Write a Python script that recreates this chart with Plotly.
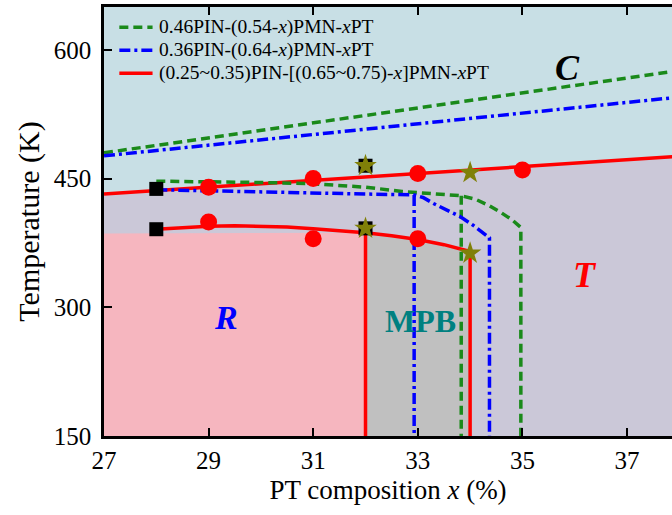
import plotly.graph_objects as go

# ---------------- data ----------------
x_fit = [27, 38]
tc_red = [432, 476]        # (0.25~0.35)PIN series, C/T boundary
tc_green = [480, 576]      # 0.46PIN series
tc_blue = [476.5, 545]     # 0.36PIN series
T_min, T_max = 150, 650

# R / T boundary of red series
rt_x = [28, 28.5, 29, 29.5, 30, 30.5, 31, 31.5, 32, 32.5, 33, 33.5, 34]
rt_T = [391, 393, 394.5, 395, 394.5, 393.5, 391.5, 389.5, 387, 383.5, 379, 373, 365]

# R region top
r_x = [27, 32]
r_top = [386, 387]

# MPB borders (red series)
mpb_left, mpb_right = 32, 34

# 0.46PIN series R/T boundary
g_x = [28, 29, 30, 31, 32, 32.7, 33.2, 33.83, 34.1, 34.35, 34.6, 34.8, 34.97, 34.97]
g_T = [447, 446.5, 445.5, 444, 440, 435, 433, 430, 426, 419, 410, 402, 393, 150]
g_vx = [33.83, 33.83]
g_vT = [430, 150]

# 0.36PIN series R/T boundary
b_x = [28, 29, 30, 31, 32, 32.93, 33.1, 33.3, 33.55, 33.8, 34.05, 34.25, 34.37, 34.37]
b_T = [437, 436, 435, 433.5, 432, 431, 428, 421, 414, 406, 396, 387, 381, 150]
b_vx = [32.93, 32.93]
b_vT = [431, 150]

# measured points
dot_x = [29, 31, 33, 35, 29, 31, 33]
dot_T = [440, 450, 456, 460, 399.5, 380, 380]
sq_x = [28, 28, 32, 32]
sq_T = [438, 391, 465, 392]
star_x = [32, 32, 34, 34]
star_T = [465, 392, 457, 363]

x_ticks = [27, 29, 31, 33, 35, 37]
y_ticks = [150, 300, 450, 600]

legend_labels = [
    "0.46PIN-(0.54-<i>x</i>)PMN-<i>x</i>PT",
    "0.36PIN-(0.64-<i>x</i>)PMN-<i>x</i>PT",
    "(0.25~0.35)PIN-[(0.65~0.75)-<i>x</i>]PMN-<i>x</i>PT",
]

# ---------------- styles ----------------
FONT = "Liberation Serif"
C_BLUEBG = "#c8dfe5"
C_LAV = "#cbc8d8"
C_PINK = "#f6b6bf"
C_GRAY = "#c0c0c0"
RED = "#ff0000"
GREEN = "#1a8a1a"
BLUE = "#0000ff"
OLIVE = "#808008"
G_DASH = "9px,5px"
B_DASH = "11px,4px,3px,4px"

fig = go.Figure()

# background regions
fig.add_trace(go.Scatter(x=x_fit + x_fit[::-1], y=tc_red + [T_max, T_max],
                         fill="toself", fillcolor=C_BLUEBG, mode="none", hoverinfo="skip", showlegend=False))
fig.add_trace(go.Scatter(x=x_fit + x_fit[::-1], y=tc_red + [T_min, T_min],
                         fill="toself", fillcolor=C_LAV, mode="none", hoverinfo="skip", showlegend=False))
fig.add_trace(go.Scatter(x=r_x + r_x[::-1], y=r_top + [T_min, T_min],
                         fill="toself", fillcolor=C_PINK, mode="none", hoverinfo="skip", showlegend=False))
mx = [x for x in rt_x if mpb_left <= x <= mpb_right]
mT = [t for x, t in zip(rt_x, rt_T) if mpb_left <= x <= mpb_right]
fig.add_trace(go.Scatter(x=mx + [mpb_right, mpb_left], y=mT + [T_min, T_min],
                         fill="toself", fillcolor=C_GRAY, mode="none", hoverinfo="skip", showlegend=False))

# fitted C boundaries
fig.add_trace(go.Scatter(x=x_fit, y=tc_green, mode="lines", line=dict(color=GREEN, width=3.5, dash=G_DASH), showlegend=False))
fig.add_trace(go.Scatter(x=x_fit, y=tc_blue, mode="lines", line=dict(color=BLUE, width=3.5, dash=B_DASH), showlegend=False))
fig.add_trace(go.Scatter(x=x_fit, y=tc_red, mode="lines", line=dict(color=RED, width=3.5), showlegend=False))

# R/T boundaries
fig.add_trace(go.Scatter(x=g_x, y=g_T, mode="lines", line=dict(color=GREEN, width=3.5, dash=G_DASH), showlegend=False))
fig.add_trace(go.Scatter(x=g_vx, y=g_vT, mode="lines", line=dict(color=GREEN, width=3.5, dash=G_DASH), showlegend=False))
fig.add_trace(go.Scatter(x=b_x, y=b_T, mode="lines", line=dict(color=BLUE, width=3.5, dash=B_DASH), showlegend=False))
fig.add_trace(go.Scatter(x=b_vx, y=b_vT, mode="lines", line=dict(color=BLUE, width=3.5, dash=B_DASH), showlegend=False))
fig.add_trace(go.Scatter(x=rt_x, y=rt_T, mode="lines", line=dict(color=RED, width=3.5), showlegend=False))
rt_at = dict(zip(rt_x, rt_T))
fig.add_trace(go.Scatter(x=[mpb_left, mpb_left, None, mpb_right, mpb_right],
                         y=[rt_at[mpb_left], T_min, None, rt_at[mpb_right], T_min],
                         mode="lines", line=dict(color=RED, width=3.5), showlegend=False))

# markers
fig.add_trace(go.Scatter(x=sq_x, y=sq_T, mode="markers",
                         marker=dict(symbol="square", size=14, color="black"), showlegend=False))
fig.add_trace(go.Scatter(x=dot_x, y=dot_T, mode="markers",
                         marker=dict(symbol="circle", size=17, color=RED), showlegend=False))
fig.add_trace(go.Scatter(x=star_x, y=star_T, mode="markers",
                         marker=dict(symbol="star", size=17, color=OLIVE), showlegend=False))

# region labels
def lab(x, y, txt, color, size):
    fig.add_annotation(x=x, y=y, text=txt, showarrow=False, xref="x", yref="y",
                       font=dict(family=FONT, size=size, color=color))

lab(35.86, 579, "<b><i>C</i></b>", "black", 36)
lab(29.34, 288, "<b><i>R</i></b>", BLUE, 34)
lab(33.05, 284, "<b>MPB</b>", "#008080", 32)
lab(36.19, 338, "<b><i>T</i></b>", RED, 36)

# manual legend (compact, like the original)
leg_colors = [GREEN, BLUE, RED]
leg_dash = [G_DASH, B_DASH, "solid"]
leg_y = [0.9529, 0.8992, 0.8456]
for lbl, col, dsh, yy in zip(legend_labels, leg_colors, leg_dash, leg_y):
    fig.add_shape(type="line", xref="paper", yref="paper", x0=0.027, x1=0.0855, y0=yy, y1=yy,
                  line=dict(color=col, width=3.5, dash=dsh))
    fig.add_annotation(xref="paper", yref="paper", x=0.094, y=yy, xanchor="left", yanchor="middle",
                       text=lbl, showarrow=False, font=dict(family=FONT, size=19.5, color="black"))

axis_common = dict(showline=True, linecolor="black", linewidth=2.5, ticks="inside",
                   tickcolor="black", tickwidth=2, ticklen=8, showgrid=False, zeroline=False,
                   tickfont=dict(family=FONT, size=25, color="black"))

fig.update_layout(
    width=672, height=515,
    margin=dict(l=104, r=0, t=7, b=79),
    paper_bgcolor="white", plot_bgcolor="white",
    xaxis=dict(range=[27, 37.86], tickvals=x_ticks, mirror="ticks",
               title=dict(text="PT composition <i>x</i> (%)", font=dict(family=FONT, size=27, color="black"), standoff=8),
               **axis_common),
    yaxis=dict(range=[T_min, T_max], tickvals=y_ticks, ticklabelstandoff=5,
               title=dict(text="Temperature (K)", font=dict(family=FONT, size=30, color="black"), standoff=6),
               **axis_common),
)

fig.write_html("out.html")
